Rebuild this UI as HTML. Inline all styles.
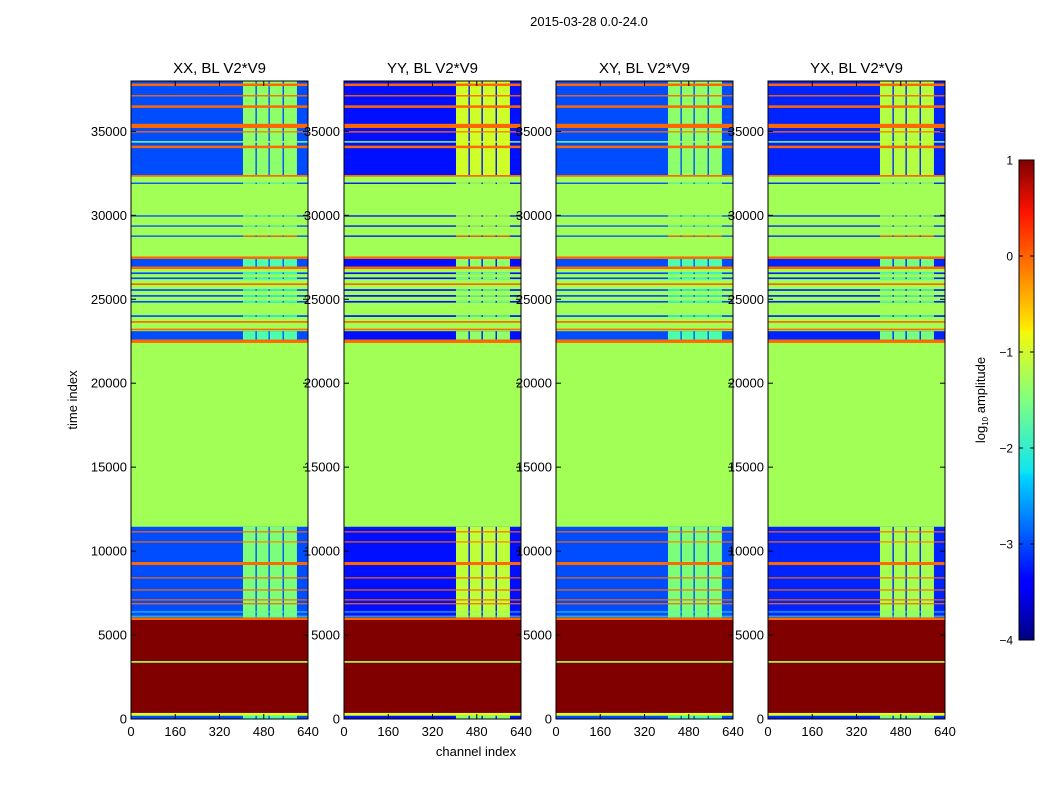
<!DOCTYPE html>
<html><head><meta charset="utf-8"><style>
html,body{margin:0;padding:0;background:#fff;}
svg{display:block;font-family:"Liberation Sans",sans-serif;}
</style></head><body>
<svg id="fig" width="1050" height="800" viewBox="0 0 1050 800">
<defs>
<linearGradient id="jet" x1="0" y1="1" x2="0" y2="0">
<stop offset="0" stop-color="#00007f"/><stop offset="0.11" stop-color="#0000ff"/>
<stop offset="0.125" stop-color="#0000ff"/><stop offset="0.34" stop-color="#00d4ff"/>
<stop offset="0.35" stop-color="#0de5f2"/><stop offset="0.5" stop-color="#80ff80"/>
<stop offset="0.64" stop-color="#f2f90d"/><stop offset="0.65" stop-color="#ffea00"/>
<stop offset="0.89" stop-color="#ff1300"/><stop offset="1" stop-color="#7f0000"/>
</linearGradient>
</defs>
<text x="589" y="26" font-size="13" text-anchor="middle">2015-03-28 0.0-24.0</text>
<text x="77" y="400" font-size="13" text-anchor="middle" transform="rotate(-90 77 400)">time index</text>
<text x="476" y="756" font-size="13" text-anchor="middle">channel index</text>
<g id="panels"></g>
<g>
<rect x="1019" y="160" width="15" height="480" fill="url(#jet)" stroke="#000" stroke-width="1"/>
<g id="cbticks"></g>
<text x="985" y="400" font-size="13" text-anchor="middle" transform="rotate(-90 985 400)">log<tspan font-size="8" dy="3">10</tspan><tspan dy="-3"> amplitude</tspan></text>
</g>
</svg>
<script>
// ----- data -----
const panelTitles = ["XX, BL V2*V9","YY, BL V2*V9","XY, BL V2*V9","YX, BL V2*V9"];
const panelLowShift = [0, -0.3, 0, -0.2];
const panelHighShift = [0, 0.4, 0, 0.25];
// time bands (drawn in order): start, end, value outside RFI block, value inside block
const bandStart = [0,0,200,360,5900,6050,22600,26950,32400,3350,6100,6350,6830,7060,7650,8370,9170,10510,11110,22400,23150,23600,23950,24800,25150,25500,25850,26200,26500,26800,27400,28720,29320,29920,31870,32300,34000,34330,34930,35200,36400,37080,37700];
const bandEnd   = [38000,200,360,5900,6050,11450,23100,27400,38000,3450,6150,6400,6900,7130,7720,8440,9350,10580,11180,22600,23250,23700,24050,24900,25250,25600,25950,26300,26600,26950,27550,28800,29400,30000,31950,32400,34150,34420,35010,35450,36550,37160,37850];
const bandLow   = [-1.27,-3,-0.9,1,0,-3,-3,-3,-3,-1.27,-2,-2,0,0,0,0,0,0,0,0,0,0,-3,-3,-3,-3,0,-3,-3,0,0,-3,-3,-3,-3,0,0,-1.5,0,0,0,0,0];
const bandHigh  = [-1.27,-1.8,-0.9,1,0,-1.5,-1.8,-1.8,-1.4,-1.27,-1.8,-1.8,0,0,0,0,0,-0.2,-0.1,0,0,0,-2,-2,-2,-2,0,-2,-2,0,0,0,-1.6,-1.6,-1.6,0,0,-1.2,-0.2,0,0,0,0];
const colStart = [405,455,502,553];
const colEnd   = [450,497,548,600];
const yTicks = [0,5000,10000,15000,20000,25000,30000,35000];
const xTicks = [0,160,320,480,640];
const cbTicks = [1,0,-1,-2,-3,-4];
// ----- layout -----
const panelX = [131,344,556,768], panelW = 177, plotTop = 81, plotBottom = 719;
const tMax = 38000, chMax = 640, vMin = -4, vMax = 1;
const NS = "http://www.w3.org/2000/svg";
function yScale(t){ return plotBottom - t / tMax * (plotBottom - plotTop); }
function xScale(p, ch){ return panelX[p] + ch / chMax * panelW; }
function interp(x, pts){
  for (let i = 1; i < pts.length; i++){
    if (x <= pts[i][0]){
      const a = pts[i-1], b = pts[i];
      return a[1] + (b[1]-a[1]) * (x - a[0]) / (b[0] - a[0]);
    }
  }
  return pts[pts.length-1][1];
}
function jet(v){
  const x = Math.max(0, Math.min(1, (v - vMin) / (vMax - vMin)));
  const r = interp(x, [[0,0],[0.35,0],[0.66,1],[0.89,1],[1,0.5]]);
  const g = interp(x, [[0,0],[0.125,0],[0.375,1],[0.64,1],[0.91,0],[1,0]]);
  const b = interp(x, [[0,0.5],[0.11,1],[0.34,1],[0.65,0],[1,0]]);
  return "rgb(" + Math.round(r*255) + "," + Math.round(g*255) + "," + Math.round(b*255) + ")";
}
function mk(tag, attrs, parent){
  const e = document.createElementNS(NS, tag);
  for (const k in attrs) e.setAttribute(k, attrs[k]);
  parent.appendChild(e); return e;
}
const panels = document.getElementById("panels");
for (let p = 0; p < 4; p++){
  const g = mk("g", {}, panels);
  
  
  for (let i = 0; i < bandStart.length; i++){
    const y1 = yScale(bandEnd[i]), y2 = yScale(bandStart[i]);
    const lo = bandLow[i] + (bandLow[i] < -2 ? panelLowShift[p] : 0);
    const r = mk("rect", {x: xScale(p,0), y: y1, width: panelW, height: Math.max(0.8, y2 - y1), fill: jet(lo)}, g);
    
    
    if (bandHigh[i] !== bandLow[i]){
      for (let c = 0; c < colStart.length; c++){
        const hv = bandHigh[i] + (bandHigh[i] < -0.5 ? panelHighShift[p] : 0);
        const rc = mk("rect", {x: xScale(p,colStart[c]), y: y1, width: xScale(p,colEnd[c]) - xScale(p,colStart[c]), height: Math.max(0.8, y2 - y1), fill: jet(hv)}, g);
        
        
      }
    }
  }
  const fr = mk("rect", {x: panelX[p], y: plotTop, width: panelW, height: plotBottom - plotTop, fill: "none", stroke: "#000", "stroke-width": 1}, g);
  
  
  const tt = mk("text", {x: panelX[p] + panelW/2, y: 73, "font-size": 15, "text-anchor": "middle"}, g);
  tt.textContent = panelTitles[p];
  
  
  yTicks.forEach(t => {
    const y = yScale(t);
    mk("line", {x1: panelX[p], x2: panelX[p]+5, y1: y, y2: y, stroke: "#000"}, g);
    mk("line", {x1: panelX[p]+panelW-5, x2: panelX[p]+panelW, y1: y, y2: y, stroke: "#000"}, g);
    const l = mk("text", {x: panelX[p] - 4, y: y + 4.5, "font-size": 13, "text-anchor": "end"}, g);
    l.textContent = t;
    
    
  });
  xTicks.forEach(c => {
    const x = xScale(p, c);
    mk("line", {x1: x, x2: x, y1: plotBottom, y2: plotBottom-5, stroke: "#000"}, g);
    mk("line", {x1: x, x2: x, y1: plotTop, y2: plotTop+5, stroke: "#000"}, g);
    const l = mk("text", {x: x, y: 736, "font-size": 13, "text-anchor": "middle"}, g);
    l.textContent = c;
    
    
  });
}
const cbg = document.getElementById("cbticks");
cbTicks.forEach(v => {
  const y = 640 - (v - vMin) / (vMax - vMin) * 480;
  mk("line", {x1: 1019, x2: 1023, y1: y, y2: y, stroke: "#000"}, cbg);
  mk("line", {x1: 1030, x2: 1034, y1: y, y2: y, stroke: "#000"}, cbg);
  const l = mk("text", {x: 1013, y: y + 4.5, "font-size": 12, "text-anchor": "end"}, cbg);
  l.textContent = v < 0 ? "\u2212" + (-v) : String(v);
  
  
});
</script>
</body></html>
